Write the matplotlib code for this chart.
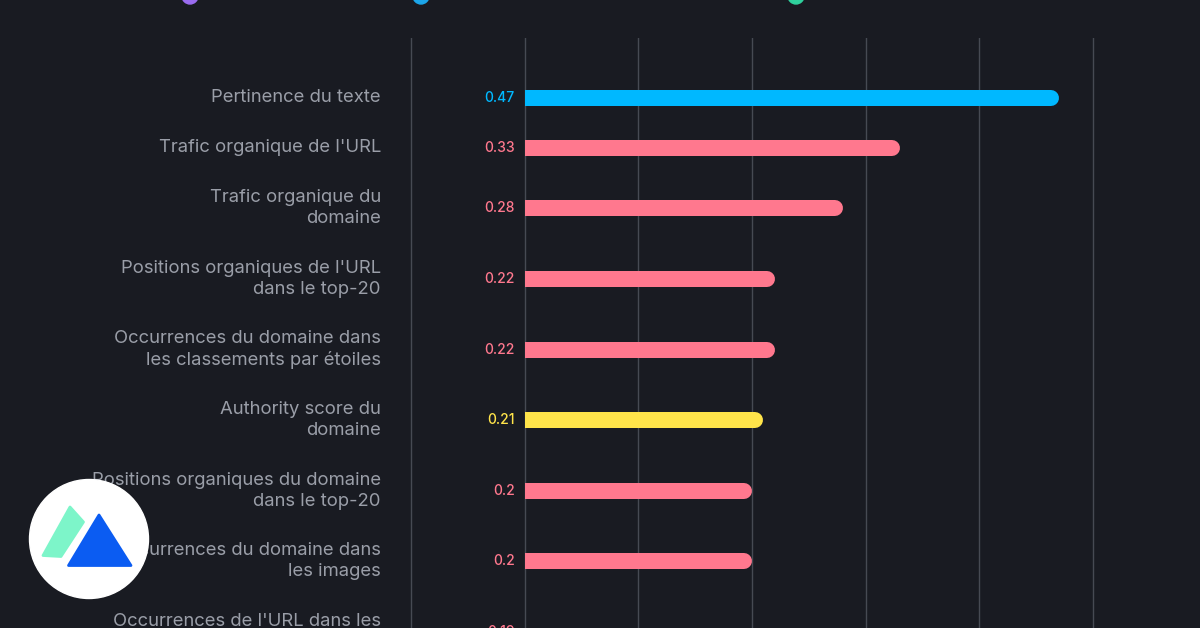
import matplotlib.pyplot as plt
from matplotlib.patches import Circle, Polygon

plt.rcParams['font.family'] = ['Inter', 'DejaVu Sans']

# data
categories = [
    "Pertinence du texte",
    "Trafic organique de l'URL",
    "Trafic organique du\ndomaine",
    "Positions organiques de l'URL\ndans le top-20",
    "Occurrences du domaine dans\nles classements par étoiles",
    "Authority score du\ndomaine",
    "Positions organiques du domaine\ndans le top-20",
    "Occurrences du domaine dans\nles images",
    "Occurrences de l'URL dans les\nimages",
]
values = [0.47, 0.33, 0.28, 0.22, 0.22, 0.21, 0.2, 0.2, 0.19]
value_labels = ["0.47", "0.33", "0.28", "0.22", "0.22", "0.21", "0.2", "0.2", "0.19"]
bar_groups = ["blue", "pink", "pink", "pink", "pink", "yellow", "pink", "pink", "pink"]
x_ticks = [-0.1, 0.0, 0.1, 0.2, 0.3, 0.4, 0.5]
legend_colors = ["#9a6cf0", "#1ca6ea", "#2fd19d"]

bg = "#191b22"
grid_col = "#464a53"
label_col = "#9a9ea8"
palette = {"blue": "#00b8ff", "pink": "#ff788e", "yellow": "#ffe44a"}

W, H = 1200, 628
fig = plt.figure(figsize=(W / 100, H / 100), dpi=100, facecolor=bg)

# axes: x=-0.1 at 411px, x=0.5 at 1093px, top at 38px
px_per_unit = (1093 - 411) / 0.6
pad = 2
ax = fig.add_axes([(411 - pad) / W, 0, (682 + 2 * pad) / W, (H - 38) / H])
ax.set_facecolor(bg)
ax.set_xlim(-0.1 - pad / px_per_unit, 0.5 + pad / px_per_unit)
ax.set_ylim(H - 38, 0)
for s in ax.spines.values():
    s.set_visible(False)
ax.set_xticks(x_ticks)
ax.set_yticks([])
ax.tick_params(length=0, labelbottom=False)
ax.grid(axis="x", color=grid_col, lw=1)
ax.set_axisbelow(True)

# row positions depend on how many lines the label takes
half = {1: 25, 2: 35.3}
ys = []
y = 35
for cat in categories:
    h = half[cat.count("\n") + 1]
    y += h
    ys.append(y)
    y += h

bar_h = 16
lw = bar_h * 0.72
r = (bar_h / 2) / px_per_unit
for cat, v, lab, g, yy in zip(categories, values, value_labels, bar_groups, ys):
    c = palette[g]
    # square left end, rounded right end
    ax.plot([0, v - r], [yy, yy], color=c, lw=lw, solid_capstyle="butt", zorder=3)
    ax.plot([v - 2 * r, v - r], [yy, yy], color=c, lw=lw, solid_capstyle="round", zorder=3)
    ax.text(-10 / px_per_unit, yy, lab, ha="right", va="center", color=c,
            fontsize=10, fontweight="medium")
    ax.text(-0.1 - 30 / px_per_unit, yy, cat, ha="right", va="center",
            color=label_col, fontsize=13.3, linespacing=1.3)

# legend markers cut off at the top
for cx, col in zip([190, 421, 796], legend_colors):
    fig.add_artist(Circle((cx / 100, (H + 4) / 100), 8 / 100, color=col,
                          transform=fig.dpi_scale_trans, clip_on=False))

# logo
def pt(x, y):
    return (x / 100, (H - y) / 100)

fig.add_artist(Circle(pt(89, 539), 59.5 / 100, color="white",
                      transform=fig.dpi_scale_trans))
fig.add_artist(Polygon([pt(70, 507), pt(83.5, 522), pt(61, 556.5), pt(43, 555.5)],
                       closed=True, color="#7df5c9", joinstyle="round", lw=2,
                       transform=fig.dpi_scale_trans))
fig.add_artist(Polygon([pt(99, 515), pt(131, 565.5), pt(68.5, 565.5)],
                       closed=True, color="#0b5cf2", joinstyle="round", lw=2,
                       transform=fig.dpi_scale_trans))

fig.savefig("out.png", dpi=100, facecolor=bg)
